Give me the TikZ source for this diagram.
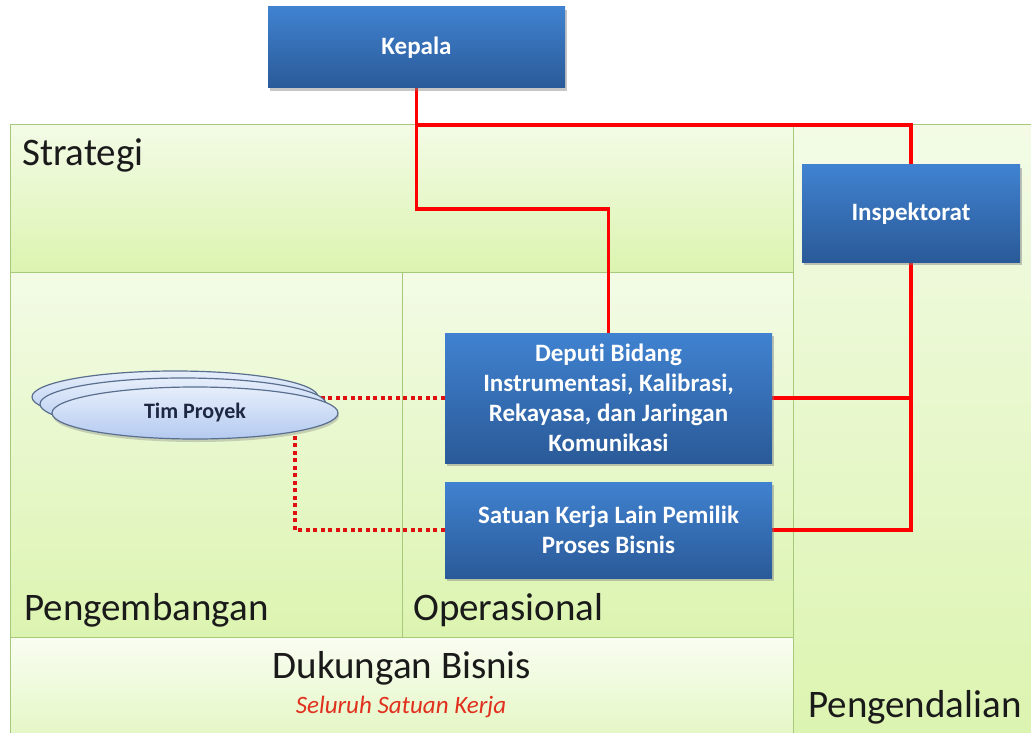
\documentclass[tikz,border=0pt]{standalone}
\usepackage{fontspec}
\setmainfont{Carlito}[Ligatures=NoCommon]
\usetikzlibrary{shadows,shapes.geometric}
\definecolor{regionline}{HTML}{A6C97A}
\definecolor{regiontop}{HTML}{F3FBE6}
\definecolor{regionbot}{HTML}{DCF4B0}
\definecolor{supporttop}{HTML}{F9FDF2}
\definecolor{supportbot}{HTML}{E4F7C4}
\definecolor{boxtop}{HTML}{4082D0}
\definecolor{boxbot}{HTML}{2A5A98}
\definecolor{elltop}{HTML}{E6EEFB}
\definecolor{ellbot}{HTML}{B4CAF0}
\definecolor{ellline}{HTML}{5A6F8E}
\definecolor{linkred}{HTML}{FF0000}
\definecolor{dotred}{HTML}{E01010}
\definecolor{labeltext}{HTML}{1A1A1A}
\definecolor{teamtext}{HTML}{1E2742}
\definecolor{notered}{HTML}{E0301E}
\pgfdeclarelayer{bg}
\pgfdeclarelayer{links}
\pgfsetlayers{bg,links,main}
\tikzset{
  region/.style={draw=regionline, line width=1pt, top color=regiontop, bottom color=regionbot},
  support/.style={draw=regionline, line width=1pt, top color=supporttop, bottom color=supportbot},
  unitbox/.style={rectangle, inner sep=2pt, top color=boxtop, bottom color=boxbot,
    text=white, font=\fontsize{25}{30}\selectfont\bfseries, align=center,
    drop shadow={opacity=0.45, shadow xshift=2pt, shadow yshift=-3pt}},
  teamell/.style={ellipse, inner sep=0pt, minimum width=286pt, minimum height=52pt,
    top color=elltop, bottom color=ellbot, draw=ellline, line width=1.2pt},
  arealabel/.style={inner sep=0pt, text=labeltext, font=\fontsize{39}{44}\selectfont},
  redlink/.style={draw=linkred, line width=3.5pt},
  dotlink/.style={draw=dotred, line width=4pt, dash pattern=on 4pt off 3.5pt},
}
\begin{document}
\begin{tikzpicture}[x=1pt,y=-1pt]
\useasboundingbox (0,0) rectangle (1031,733);

% coloured areas of the model
\begin{pgfonlayer}{bg}
  \path[region] (10,125) rectangle (793,272);
  \path[region] (793,125) rectangle (1036,738);
  \path[region] (10,272) rectangle (402,637);
  \path[region] (402,272) rectangle (793,637);
  \path[support] (10,637) rectangle (793,738);
\end{pgfonlayer}

% area labels
\node[arealabel, anchor=base west] (strategi) at (22,166) {Strategi};
\node[arealabel, anchor=base west] (pengembangan) at (24,620) {Pengembangan};
\node[arealabel, anchor=base west] (operasional) at (413,620) {Operasional};
\node[arealabel, anchor=base] (dukungan) at (402,678) {Dukungan Bisnis};
\node[inner sep=0pt, anchor=base, text=notered, font=\fontsize{25}{30}\selectfont\itshape] (seluruh) at (401,713) {Seluruh Satuan Kerja};
\node[arealabel, anchor=base west] (pengendalian) at (808,717) {Pengendalian};

% organisational units
\node[unitbox, minimum width=297pt, minimum height=81pt] (kepala) at (416.5,47.5) {Kepala};
\node[unitbox, minimum width=218pt, minimum height=97pt] (insp) at (911,213.5) {Inspektorat};
\node[unitbox, minimum width=327pt, minimum height=130pt] (deputi) at (608.5,398)
  {Deputi Bidang\\Instrumentasi, Kalibrasi,\\Rekayasa, dan Jaringan\\Komunikasi};
\node[unitbox, minimum width=327pt, minimum height=96pt] (satuan) at (608.5,530)
  {Satuan Kerja Lain Pemilik\\Proses Bisnis};

% project team: three stacked ellipses
\node[teamell] (back) at (175,397) {};
\node[teamell] (mid) at (183,404) {};
\node[teamell, drop shadow={opacity=0.35, shadow xshift=1pt, shadow yshift=-3pt}] (tim) at (195,413)
  {\fontsize{22}{26}\selectfont\bfseries\color{teamtext}Tim Proyek};

% reporting lines
\coordinate (topbus) at (0,125);
\coordinate (stepdown) at (0,209);
\coordinate (teamfoot) at (295,413);
\begin{pgfonlayer}{links}
  \draw[redlink] (kepala.south) -- (kepala.south |- topbus) -| (insp.north);
  \draw[redlink] (kepala.south |- topbus) -- (kepala.south |- stepdown) -| (deputi.north);
  \draw[redlink] (insp.south) -- (insp.south |- satuan.east) -- (satuan.east);
  \draw[redlink] (deputi.east) -- (deputi.east -| insp.south);
  \draw[dotlink] (deputi.west) -- (deputi.west -| mid.center);
  \draw[dotlink] (satuan.west) -| (teamfoot);
\end{pgfonlayer}
\end{tikzpicture}
\end{document}
